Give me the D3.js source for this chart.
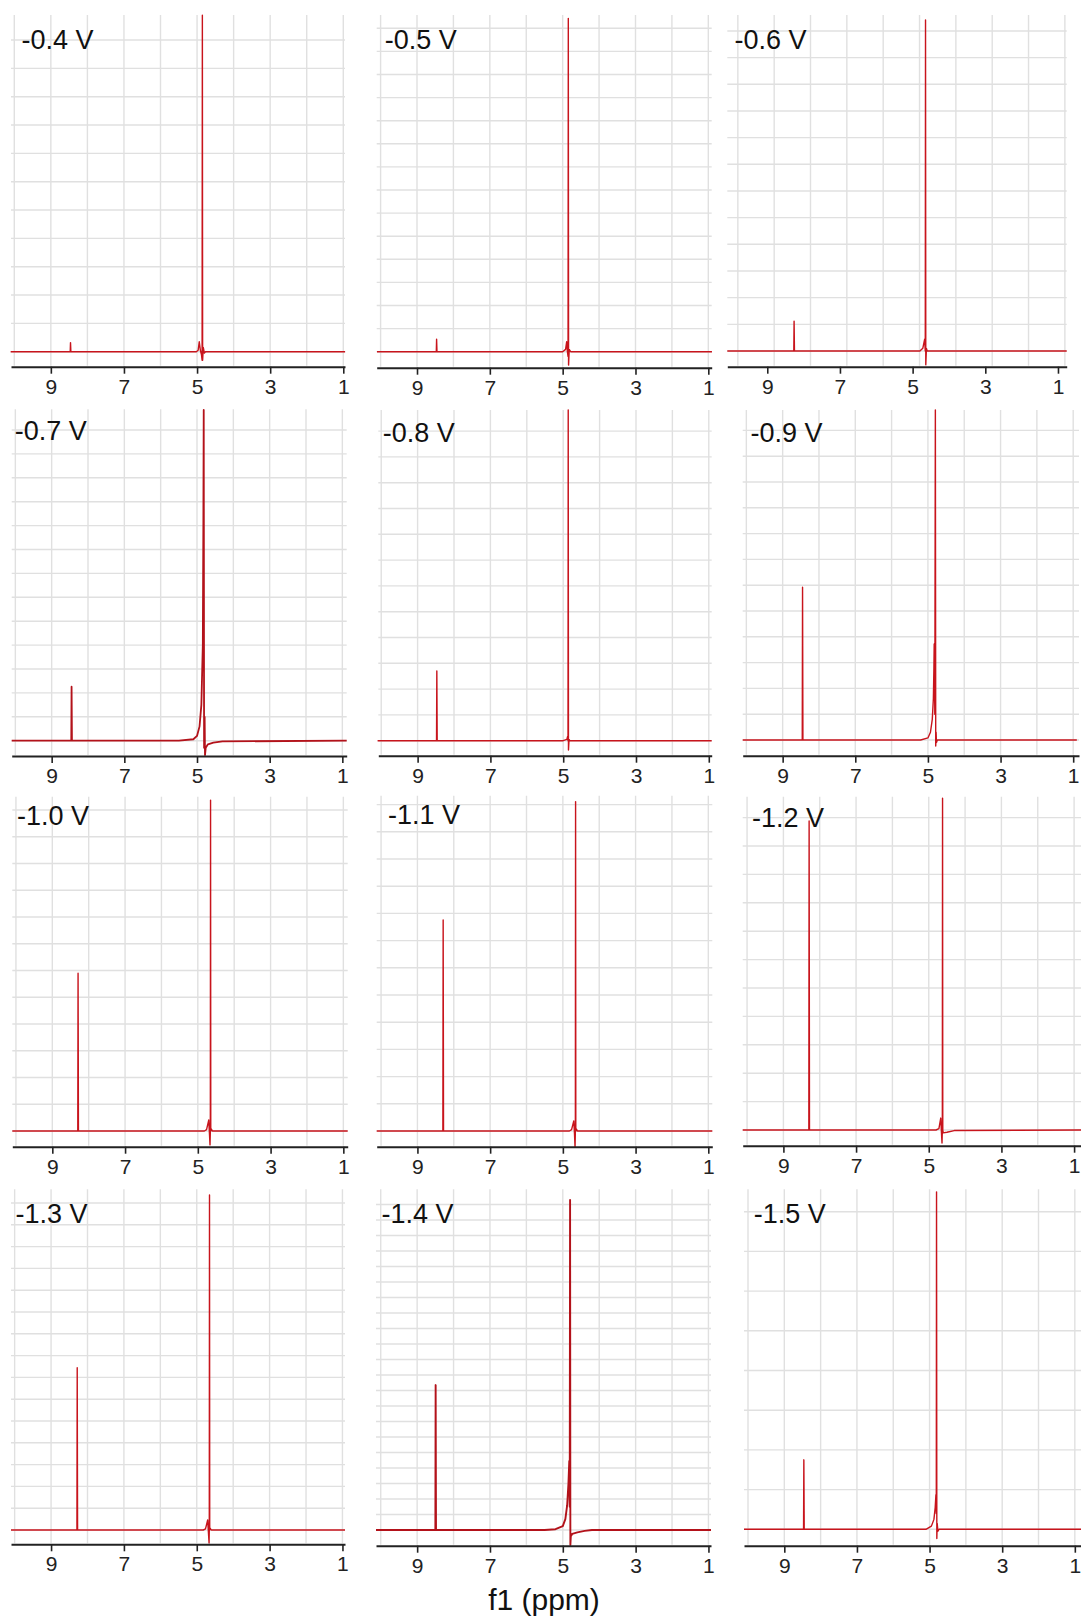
<!DOCTYPE html>
<html><head><meta charset="utf-8">
<script src="https://cdn.jsdelivr.net/npm/d3@7"></script>
<style>body{margin:0;background:#fff}svg{display:block}</style>
</head><body>
<svg id="c" width="1081" height="1620"></svg>
<script>
// ---------- data ----------
const panelLabels = ["-0.4 V","-0.5 V","-0.6 V","-0.7 V","-0.8 V","-0.9 V","-1.0 V","-1.1 V","-1.2 V","-1.3 V","-1.4 V","-1.5 V"];
const xTicks = [9, 7, 5, 3, 1];
const gridPpm = [10, 9, 8, 7, 6, 5, 4, 3, 2, 1];
const axisTitle = "f1 (ppm)";

// spectrum vertices: [ppm, intensity (grid units)]
const spec_m04 = [[10.1,0],[8.47,0],[8.462,0.32],[8.452,0],[5.02,0],[4.97,0.05],[4.94,0.35],[4.91,0.05],[4.88,-0.1],[4.862,-0.3],[4.855,11.88],[4.848,-0.3],[4.83,0.15],[4.80,-0.05],[4.77,0],[0.95,0]];
const spec_m05 = [[10.1,0],[8.47,0],[8.462,0.54],[8.452,0],[5.00,0],[4.92,0.1],[4.89,0.43],[4.87,0],[4.852,-0.2],[4.845,14.43],[4.838,-0.58],[4.82,0.1],[4.80,0.05],[4.78,0],[0.9,0]];
const spec_m06 = [[10.1,0],[8.27,0],[8.262,1.12],[8.252,0],[4.80,0],[4.72,0.1],[4.67,0.44],[4.652,0],[4.645,12.41],[4.638,-0.52],[4.62,0.1],[4.60,0],[0.76,0]];
const spec_m07 = [[10.1,0],[8.46,0],[8.452,2.26],[8.442,0],[5.5,0],[5.1,0.06],[5.0,0.2],[4.93,0.6],[4.88,1.5],[4.84,4.0],[4.825,9.1],[4.815,13.84],[4.805,-0.3],[4.79,1.0],[4.78,-0.6],[4.76,-0.3],[4.70,-0.15],[4.55,-0.08],[4.30,-0.03],[0.88,0]];
const spec_m08 = [[10.1,0],[8.48,0],[8.472,2.70],[8.462,0],[5.00,0],[4.90,0.05],[4.88,0.16],[4.868,0],[4.862,12.82],[4.855,-0.36],[4.84,0.05],[4.82,0],[0.92,0]];
const spec_m09 = [[10.1,0],[8.46,0],[8.452,5.92],[8.442,0],[5.2,0],[5.0,0.08],[4.93,0.3],[4.88,0.8],[4.85,1.6],[4.835,2.8],[4.827,3.72],[4.81,1.0],[4.795,12.79],[4.785,-0.23],[4.775,0.3],[4.765,-0.1],[4.74,0],[0.9,0]];
const spec_m10 = [[10.1,0],[8.30,0],[8.292,5.90],[8.282,0],[4.82,0],[4.76,0.05],[4.70,0.41],[4.68,-0.1],[4.665,-0.52],[4.656,0],[4.65,12.37],[4.644,0],[4.63,0.08],[4.60,0],[0.88,0]];
const spec_m11 = [[10.12,0],[8.30,0],[8.292,7.76],[8.282,0],[4.82,0],[4.76,0.05],[4.70,0.37],[4.68,-0.1],[4.665,-0.59],[4.656,0],[4.65,12.11],[4.644,0],[4.63,0.08],[4.60,0],[0.89,0]];
const spec_m12 = [[10.12,0],[8.30,0],[8.292,10.88],[8.282,0],[4.80,0],[4.72,0.05],[4.67,0.42],[4.65,-0.1],[4.635,-0.46],[4.626,0],[4.62,11.68],[4.614,0],[4.60,-0.1],[4.50,-0.08],[4.30,-0.02],[0.81,0]];
const spec_m13 = [[10.1,0],[8.29,0],[8.282,7.44],[8.272,0],[4.82,0],[4.76,0.05],[4.70,0.46],[4.68,-0.1],[4.662,-0.6],[4.656,0],[4.65,15.37],[4.644,0],[4.63,0.08],[4.60,0],[0.93,0]];
const spec_m14 = [[10.13,0],[8.50,0],[8.492,9.35],[8.482,0],[5.5,0],[5.2,0.05],[5.0,0.25],[4.93,0.7],[4.88,1.6],[4.845,3.0],[4.822,4.45],[4.81,1.5],[4.80,21.29],[4.792,-0.97],[4.78,-0.4],[4.74,-0.25],[4.6,-0.15],[4.4,-0.06],[4.2,0],[0.93,0]];
const spec_m15 = [[10.11,0],[8.47,0],[8.462,1.75],[8.452,0],[5.1,0],[4.95,0.08],[4.88,0.25],[4.845,0.55],[4.825,0.87],[4.815,0.4],[4.808,8.50],[4.80,-0.23],[4.79,0.15],[4.77,-0.05],[4.74,0],[0.83,0]];
const spectra = [spec_m04,spec_m05,spec_m06,spec_m07,spec_m08,spec_m09,spec_m10,spec_m11,spec_m12,spec_m13,spec_m14,spec_m15];

// ---------- layout (pixels) ----------
const layout = [
  {xL:11,   xR:345,   ppmL:10.09, ppmR:0.953, top:15,    base:351.7,  axisY:366.7,  unit:28.33, gs:0,     lx:21.5,  ly:49.3,  sw:1.4},
  {xL:376.7,xR:711.7, ppmL:10.107,ppmR:0.907, top:15,    base:351.7,  axisY:367.7,  unit:23.1,  gs:0,     lx:384.8, ly:49.3,  sw:1.4},
  {xL:727.3,xR:1066.7,ppmL:10.10, ppmR:0.76,  top:15,    base:351,    axisY:366.7,  unit:26.67, gs:-0.19, lx:734.5, ly:49.3,  sw:1.4},
  {xL:11.7, xR:346.7, ppmL:10.10, ppmR:0.88,  top:409.3, base:740.7,  axisY:756,    unit:23.9,  gs:0,     lx:14.8,  ly:440,   sw:1.8},
  {xL:378.3,xR:711.7, ppmL:10.08, ppmR:0.92,  top:410,   base:740.7,  axisY:755.7,  unit:25.8,  gs:0,     lx:382.8, ly:441.7, sw:1.4},
  {xL:742.7,xR:1079,  ppmL:10.10, ppmR:0.84,  top:410,   base:740,    axisY:755.7,  unit:25.8,  gs:0,     lx:750.5, ly:441.7, sw:1.4},
  {xL:12.3, xR:347.7, ppmL:10.10, ppmR:0.88,  top:796.7, base:1131,   axisY:1146.7, unit:26.75, gs:0,     lx:17.1,  ly:825,   sw:1.4},
  {xL:376.7,xR:712.3, ppmL:10.12, ppmR:0.89,  top:795.7, base:1131,   axisY:1146.7, unit:27.2,  gs:0,     lx:388.1, ly:824.3, sw:1.4},
  {xL:742.7,xR:1081,  ppmL:10.12, ppmR:0.81,  top:796.7, base:1130,   axisY:1145.7, unit:28.4,  gs:0,     lx:752.1, ly:826.7, sw:1.4},
  {xL:11,   xR:345,   ppmL:10.10, ppmR:0.93,  top:1189.3,base:1530,   axisY:1544.3, unit:21.8,  gs:0,     lx:15.5,  ly:1223.3,sw:1.4},
  {xL:376,  xR:711,   ppmL:10.13, ppmR:0.93,  top:1189.3,base:1530,   axisY:1545.7, unit:15.5,  gs:0,     lx:381.5, ly:1223.3,sw:1.9},
  {xL:744,  xR:1081,  ppmL:10.11, ppmR:0.83,  top:1189.3,base:1529.3, axisY:1545.7, unit:39.7,  gs:0,     lx:753.8, ly:1223.3,sw:1.4}
];

const svg = d3.select("#c");
const font = "'Liberation Sans', Arial, sans-serif";

layout.forEach((L, i) => {
  const g = svg.append("g");
  const x = d3.scaleLinear().domain([L.ppmL, L.ppmR]).range([L.xL, L.xR]);
  const y = d3.scaleLinear().domain([0, 1]).range([L.base, L.base - L.unit]);
  const nH = Math.floor((L.base - L.top) / L.unit + 1e-6);

  // horizontal grid
  g.append("g").selectAll("line").data(d3.range(0, nH + 1)).join("line")
    .attr("x1", L.xL).attr("x2", L.xR)
    .attr("y1", d => y(d)).attr("y2", d => y(d))
    .attr("stroke", "#e0e0e0").attr("stroke-width", 1.4);

  // vertical grid
  const vg = gridPpm.map(v => v + L.gs).filter(v => v <= L.ppmL && v >= L.ppmR);
  g.append("g").selectAll("line").data(vg).join("line")
    .attr("x1", d => x(d)).attr("x2", d => x(d))
    .attr("y1", L.top).attr("y2", L.axisY - 1)
    .attr("stroke", "#e0e0e0").attr("stroke-width", 1.4);

  // spectrum
  const line = d3.line().x(d => x(d[0])).y(d => y(d[1]));
  g.append("path").datum(spectra[i])
    .attr("d", line)
    .attr("fill", "none")
    .attr("stroke", i === 3 || i === 10 ? "#b3121a" : "#c8141c")
    .attr("stroke-width", L.sw)
    .attr("stroke-linejoin", "round");

  // axis
  const ax = g.append("g").attr("transform", `translate(0,${L.axisY})`)
    .call(d3.axisBottom(x).tickValues(xTicks).tickSize(7).tickSizeOuter(0).tickPadding(5).tickFormat(d3.format("d")));
  ax.select(".domain").attr("stroke", "#222").attr("stroke-width", 2);
  ax.selectAll(".tick line").attr("stroke", "#222").attr("stroke-width", 1.6);
  ax.selectAll(".tick text").attr("fill", "#222").style("font-family", font).style("font-size", "21px");

  // panel label
  g.append("text").attr("x", L.lx).attr("y", L.ly)
    .text(panelLabels[i])
    .style("font-family", font).style("font-size", "27px").attr("fill", "#111");
});

svg.append("text").attr("x", 544).attr("y", 1610).attr("text-anchor", "middle")
  .text(axisTitle).style("font-family", font).style("font-size", "30px").attr("fill", "#111");
</script>
</body></html>
